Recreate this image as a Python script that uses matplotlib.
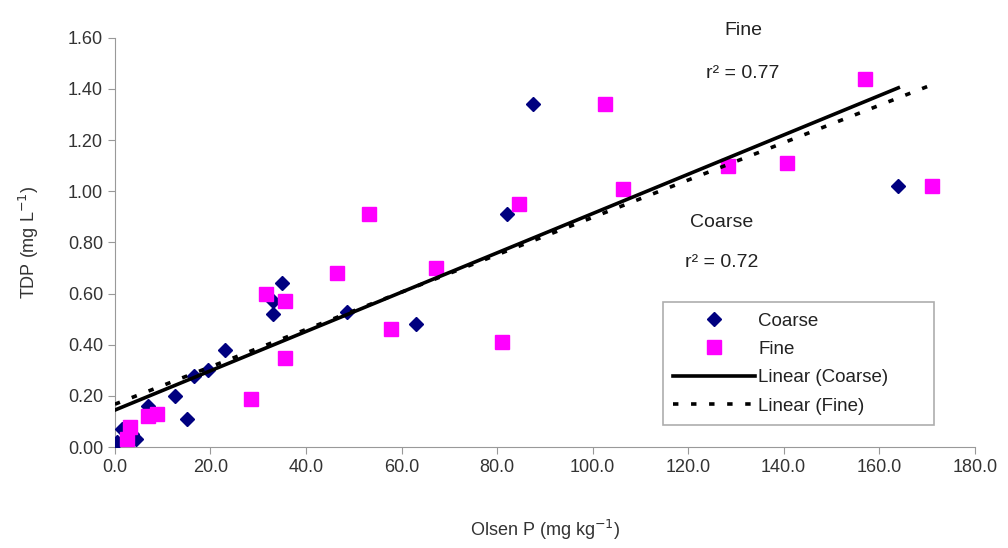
import numpy as np
import matplotlib
matplotlib.use("Agg")
import matplotlib.pyplot as plt

plt.rcParams['font.family'] = ['Liberation Sans', 'DejaVu Sans']

coarse_x = [0.5, 1.5, 3.5, 4.5, 7.0, 12.5, 15.0, 16.5, 19.5, 23.0, 33.0, 33.0, 35.0, 48.5, 63.0, 82.0, 87.5, 164.0]
coarse_y = [0.02, 0.07, 0.05, 0.03, 0.16, 0.20, 0.11, 0.28, 0.30, 0.38, 0.52, 0.57, 0.64, 0.53, 0.48, 0.91, 1.34, 1.02]

fine_x = [2.5, 3.1, 6.9, 8.8, 28.5, 31.7, 35.6, 35.6, 46.5, 53.2, 57.7, 67.3, 81.1, 84.5, 102.7, 106.3, 128.3, 140.7, 157.0, 171.0]
fine_y = [0.03, 0.08, 0.12, 0.13, 0.19, 0.60, 0.57, 0.35, 0.68, 0.91, 0.46, 0.70, 0.41, 0.95, 1.34, 1.01, 1.10, 1.11, 1.44, 1.02]

# trendline coefficients (slope, intercept)
coarse_fit = [0.00768, 0.145]
fine_fit = [0.00730, 0.168]

xticks = [0, 20, 40, 60, 80, 100, 120, 140, 160, 180]
yticks = [0.0, 0.2, 0.4, 0.6, 0.8, 1.0, 1.2, 1.4, 1.6]

fig = plt.figure(figsize=(10.08, 5.48), dpi=100)
ax = fig.add_axes([0.114, 0.184, 0.853, 0.747])

ax.plot(coarse_x, coarse_y, linestyle='none', marker='D', markersize=7.5,
        color='#000080', label='Coarse', zorder=3)
ax.plot(fine_x, fine_y, linestyle='none', marker='s', markersize=9.5,
        color='#FF00FF', label='Fine', zorder=3)

cx = np.array([0, max(coarse_x)])
fx = np.array([0, max(fine_x)])
ax.plot(cx, np.polyval(coarse_fit, cx), color='black', lw=2.6, label='Linear (Coarse)', zorder=4)
ax.plot(fx, np.polyval(fine_fit, fx), color='black', lw=2.6, linestyle=(0, (1.5, 3.5)),
        label='Linear (Fine)', zorder=4)

ax.set_xlim(0, 180)
ax.set_ylim(0, 1.6)
ax.set_xticks(xticks)
ax.set_xticklabels([f"{v:.1f}" for v in xticks])
ax.set_yticks(yticks)
ax.set_yticklabels([f"{v:.2f}" for v in yticks])
ax.tick_params(labelsize=13, colors='#333333', length=5, color='#999999')
for s in ['top', 'right']:
    ax.spines[s].set_visible(False)
for s in ['left', 'bottom']:
    ax.spines[s].set_color('#999999')
ax.spines['left'].set_bounds(0, 1.6)

ax.set_xlabel('Olsen P (mg kg$^{-1}$)', fontsize=13, color='#333333', labelpad=30)
ax.set_ylabel('TDP (mg L$^{-1}$)', fontsize=13, color='#333333', labelpad=19)

ax.text(131.5, 1.63, 'Fine', fontsize=14, ha='center', va='center', color='#222222')
ax.text(131.5, 1.46, 'r² = 0.77', fontsize=14, ha='center', va='center', color='#222222')
ax.text(127, 0.88, 'Coarse', fontsize=14, ha='center', va='center', color='#222222')
ax.text(127, 0.72, 'r² = 0.72', fontsize=14, ha='center', va='center', color='#222222')

leg = ax.legend(loc='lower left', bbox_to_anchor=(0.637, 0.054, 0.316, 0.31),
                mode='expand', fontsize=13.5, frameon=True, fancybox=False,
                edgecolor='#999999', handlelength=4.4, borderaxespad=0,
                labelspacing=0.6, handletextpad=0.15, borderpad=0.55)
leg.get_frame().set_linewidth(1.2)
for t in leg.get_texts():
    t.set_color('#222222')

fig.savefig('out.png', dpi=100)
